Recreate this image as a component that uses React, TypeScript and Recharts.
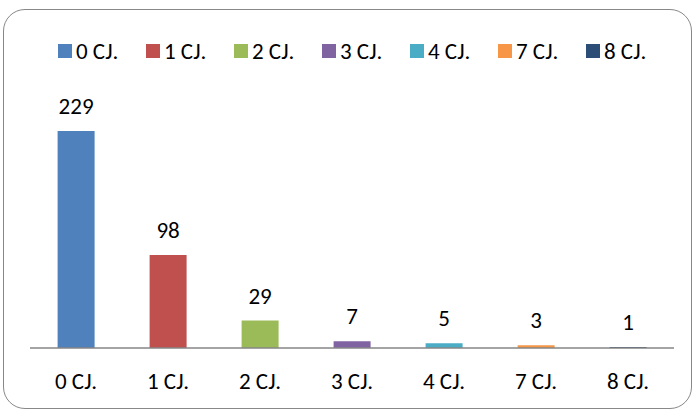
import { BarChart, Bar, XAxis, YAxis, Cell, LabelList } from "recharts";

const categories = ["0 CJ.", "1 CJ.", "2 CJ.", "3 CJ.", "4 CJ.", "7 CJ.", "8 CJ."];
const counts = [229, 98, 29, 7, 5, 3, 1];
const colors = ["#4F81BD", "#C0504D", "#9BBB59", "#8064A2", "#4BACC6", "#F79646", "#2C4D75"];

const data = categories.map((name, i) => ({ name, value: counts[i] }));

const font = "Carlito, Calibri, Lato, 'Liberation Sans', sans-serif";
const fs = 23;

// legend drawn as a plain row above the plot
function TopLegend() {
  return (
    <div
      style={{
        position: "absolute",
        left: 58,
        top: 37,
        height: 28,
        display: "flex",
        alignItems: "center",
        fontFamily: font,
        fontSize: fs,
        color: "#000",
        lineHeight: 1,
      }}
    >
      {categories.map((c, i) => (
        <div key={c} style={{ width: 88, display: "flex", alignItems: "center" }}>
          <span style={{ width: 14, height: 14, background: colors[i], marginRight: 4, display: "inline-block" }} />
          <span>{c}</span>
        </div>
      ))}
    </div>
  );
}

export default function App() {
  return (
    <div style={{ position: "fixed", left: 0, top: 0, width: 694, height: 411, background: "#fff" }}>
      <div
        style={{
          position: "absolute",
          left: 3,
          top: 9,
          width: 689,
          height: 400,
          border: "1.5px solid #888",
          borderRadius: 22,
          boxSizing: "border-box",
        }}
      />
      <BarChart
        width={694}
        height={411}
        data={data}
        margin={{ top: 111, right: 20, left: 30, bottom: 0 }}
        barCategoryGap="30%"
        style={{ position: "absolute", left: 0, top: 0, fontFamily: font }}
      >
        <XAxis
          dataKey="name"
          tickLine={false}
          axisLine={{ stroke: "#868686", strokeWidth: 1.5 }}
          tick={{ fontSize: fs, fill: "#000" }}
          tickMargin={19}
          interval={0}
          height={63}
        />
        <YAxis hide domain={[0, 250]} />
        <Bar dataKey="value" isAnimationActive={false}>
          {data.map((d, i) => (
            <Cell key={d.name} fill={colors[i]} />
          ))}
          <LabelList dataKey="value" position="top" offset={17} fill="#000" fontSize={fs} />
        </Bar>
      </BarChart>
      <TopLegend />
    </div>
  );
}
